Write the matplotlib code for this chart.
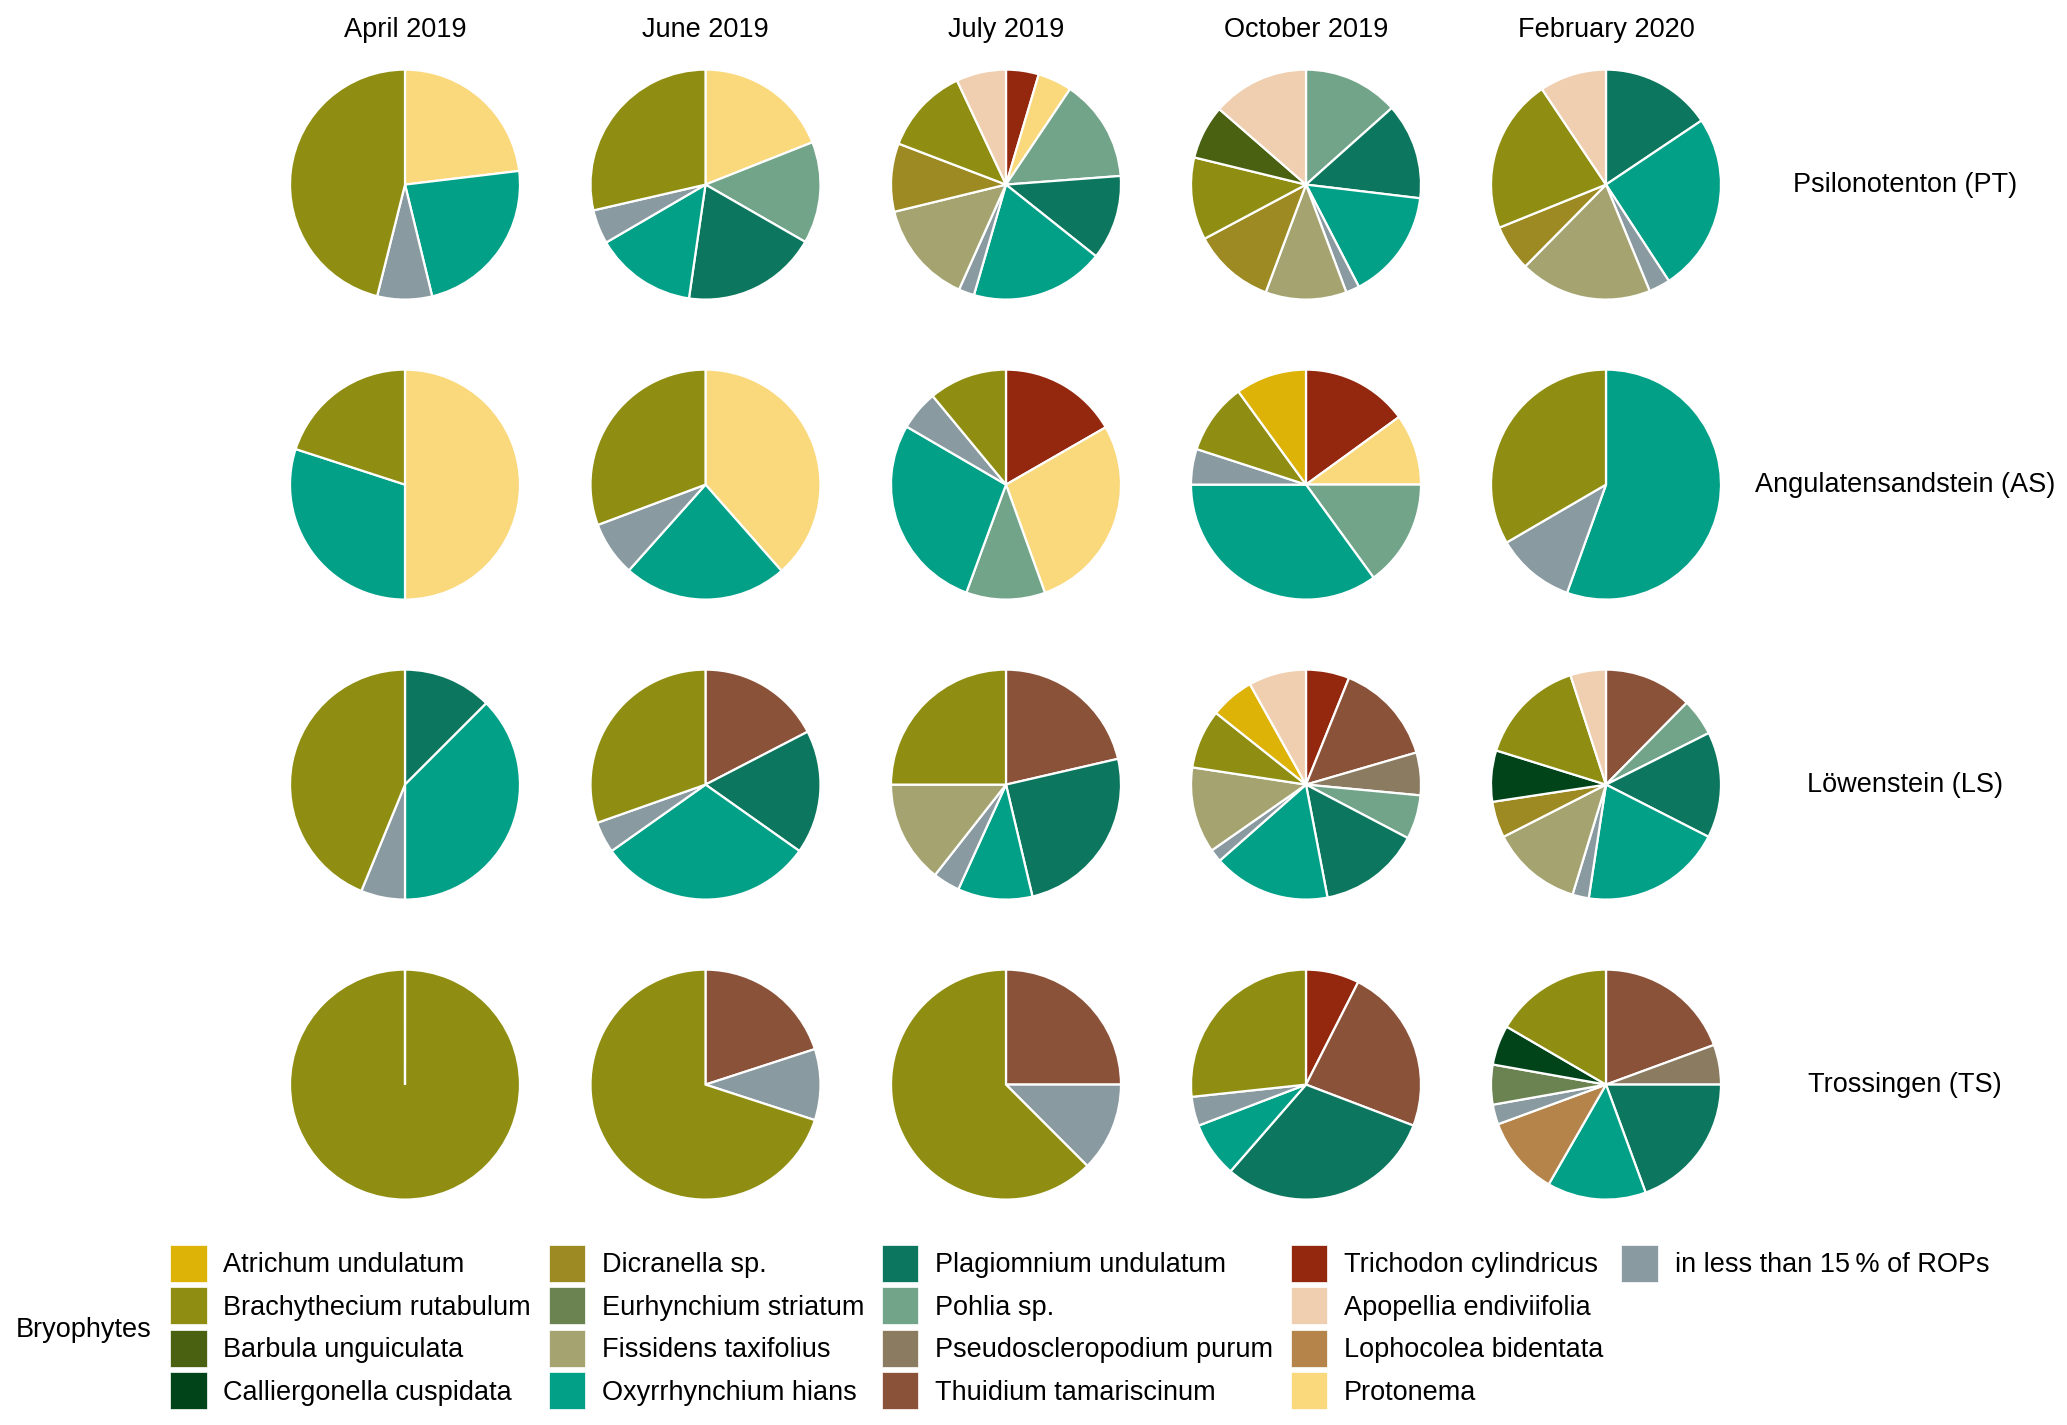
import matplotlib
matplotlib.use("Agg")
from matplotlib import pyplot as plt
from matplotlib.patches import Patch

plt.rcParams["font.family"] = ["Liberation Sans", "DejaVu Sans"]

months = ["April 2019", "June 2019", "July 2019", "October 2019", "February 2020"]
sites = ["Psilonotenton (PT)", "Angulatensandstein (AS)", "Löwenstein (LS)", "Trossingen (TS)"]

species = ["Atrichum undulatum", "Brachythecium rutabulum", "Barbula unguiculata",
           "Calliergonella cuspidata", "Dicranella sp.", "Eurhynchium striatum",
           "Fissidens taxifolius", "Oxyrrhynchium hians", "Plagiomnium undulatum",
           "Pohlia sp.", "Pseudoscleropodium purum", "Thuidium tamariscinum",
           "Trichodon cylindricus", "Apopellia endiviifolia", "Lophocolea bidentata",
           "Protonema", "in less than 15\u2009% of ROPs"]
colors = ["#DDB308", "#8F8E12", "#4A6112", "#014419", "#9D8A22", "#6A8350",
          "#A5A471", "#03A088", "#0C775E", "#72A48A", "#8A7B61", "#8B523A",
          "#93280F", "#EFCFAF", "#B5844B", "#FAD87C", "#8A9AA1"]
LESS = species[-1]

# share of each taxon (%) per sampling date
pt = {
    "April 2019": {"Protonema": 23.1, "Oxyrrhynchium hians": 23.1, LESS: 7.7,
                   "Brachythecium rutabulum": 46.1},
    "June 2019": {"Protonema": 19.0, "Pohlia sp.": 14.3, "Plagiomnium undulatum": 19.0,
                  "Oxyrrhynchium hians": 14.3, LESS: 4.8, "Brachythecium rutabulum": 28.6},
    "July 2019": {"Trichodon cylindricus": 4.6, "Protonema": 4.8, "Pohlia sp.": 14.4,
                  "Plagiomnium undulatum": 11.9, "Oxyrrhynchium hians": 18.8, LESS: 2.2,
                  "Fissidens taxifolius": 14.5, "Dicranella sp.": 9.6,
                  "Brachythecium rutabulum": 12.2, "Apopellia endiviifolia": 7.0},
    "October 2019": {"Pohlia sp.": 13.4, "Plagiomnium undulatum": 13.5,
                     "Oxyrrhynchium hians": 15.5, LESS: 1.9, "Fissidens taxifolius": 11.4,
                     "Dicranella sp.": 11.5, "Brachythecium rutabulum": 11.6,
                     "Barbula unguiculata": 7.6, "Apopellia endiviifolia": 13.6},
    "February 2020": {"Plagiomnium undulatum": 15.6, "Oxyrrhynchium hians": 25.2, LESS: 3.0,
                      "Fissidens taxifolius": 18.6, "Dicranella sp.": 6.5,
                      "Brachythecium rutabulum": 21.7, "Apopellia endiviifolia": 9.4},
}
as_ = {
    "April 2019": {"Protonema": 50.0, "Oxyrrhynchium hians": 30.0,
                   "Brachythecium rutabulum": 20.0},
    "June 2019": {"Protonema": 38.5, "Oxyrrhynchium hians": 23.1, LESS: 7.7,
                  "Brachythecium rutabulum": 30.7},
    "July 2019": {"Trichodon cylindricus": 16.7, "Protonema": 27.8, "Pohlia sp.": 11.1,
                  "Oxyrrhynchium hians": 27.8, LESS: 5.6, "Brachythecium rutabulum": 11.0},
    "October 2019": {"Trichodon cylindricus": 15.0, "Protonema": 10.0, "Pohlia sp.": 15.0,
                     "Oxyrrhynchium hians": 35.0, LESS: 5.0,
                     "Brachythecium rutabulum": 10.0, "Atrichum undulatum": 10.0},
    "February 2020": {"Oxyrrhynchium hians": 55.5, LESS: 11.1,
                      "Brachythecium rutabulum": 33.4},
}
ls = {
    "April 2019": {"Plagiomnium undulatum": 12.5, "Oxyrrhynchium hians": 37.5, LESS: 6.2,
                   "Brachythecium rutabulum": 43.8},
    "June 2019": {"Thuidium tamariscinum": 17.4, "Plagiomnium undulatum": 17.4,
                  "Oxyrrhynchium hians": 30.4, LESS: 4.4, "Brachythecium rutabulum": 30.4},
    "July 2019": {"Thuidium tamariscinum": 21.4, "Plagiomnium undulatum": 24.9,
                  "Oxyrrhynchium hians": 10.5, LESS: 3.8, "Fissidens taxifolius": 14.4,
                  "Brachythecium rutabulum": 25.0},
    "October 2019": {"Trichodon cylindricus": 6.1, "Thuidium tamariscinum": 14.4,
                     "Pseudoscleropodium purum": 6.0, "Pohlia sp.": 6.2,
                     "Plagiomnium undulatum": 14.3, "Oxyrrhynchium hians": 16.5, LESS: 1.8,
                     "Fissidens taxifolius": 12.1, "Brachythecium rutabulum": 8.3,
                     "Atrichum undulatum": 6.2, "Apopellia endiviifolia": 8.1},
    "February 2020": {"Thuidium tamariscinum": 12.4, "Pohlia sp.": 5.2,
                      "Plagiomnium undulatum": 14.9, "Oxyrrhynchium hians": 19.9, LESS: 2.3,
                      "Fissidens taxifolius": 12.8, "Dicranella sp.": 5.1,
                      "Calliergonella cuspidata": 7.2, "Brachythecium rutabulum": 15.2,
                      "Apopellia endiviifolia": 5.0},
}
ts = {
    "April 2019": {"Brachythecium rutabulum": 100.0},
    "June 2019": {"Thuidium tamariscinum": 20.0, LESS: 10.0, "Brachythecium rutabulum": 70.0},
    "July 2019": {"Thuidium tamariscinum": 25.0, LESS: 12.5, "Brachythecium rutabulum": 62.5},
    "October 2019": {"Trichodon cylindricus": 7.5, "Thuidium tamariscinum": 23.3,
                     "Plagiomnium undulatum": 30.6, "Oxyrrhynchium hians": 7.8, LESS: 4.1,
                     "Brachythecium rutabulum": 26.7},
    "February 2020": {"Thuidium tamariscinum": 19.4, "Pseudoscleropodium purum": 5.6,
                      "Plagiomnium undulatum": 19.4, "Oxyrrhynchium hians": 13.9,
                      "Lophocolea bidentata": 11.1, LESS: 2.8, "Eurhynchium striatum": 5.6,
                      "Calliergonella cuspidata": 5.6, "Brachythecium rutabulum": 16.6},
}
site_data = [pt, as_, ls, ts]

color_of = dict(zip(species, colors))

W, H = 2067, 1425
fig = plt.figure(figsize=(W / 100, H / 100), dpi=100)

col_x = [405, 705.5, 1006, 1306, 1606]
row_y = [184.6, 484.6, 784.6, 1084.6]
r = 115
fs = 19.5

for i, (site, data) in enumerate(zip(sites, site_data)):
    cy = row_y[i]
    for j, month in enumerate(months):
        cx = col_x[j]
        ax = fig.add_axes([(cx - 1.25 * r) / W, 1 - (cy + 1.25 * r) / H,
                           2.5 * r / W, 2.5 * r / H])
        # clockwise from 12 o'clock, reverse alphabetical like ggplot's stacking
        names = sorted(data[month], key=str.lower, reverse=True)
        vals = [data[month][n] for n in names]
        wedges, _ = ax.pie(vals, colors=[color_of[n] for n in names],
                           startangle=90, counterclock=False,
                           wedgeprops=dict(edgecolor="white", linewidth=1.6))
        for w in wedges:
            if w.theta2 - w.theta1 >= 359.99:
                w.set_theta2(w.theta2 - 0.01)
        if i == 0:
            fig.text(cx / W, 1 - 30 / H, month, ha="center", va="center", fontsize=fs)
    fig.text(1905 / W, 1 - cy / H, site, ha="center", va="center", fontsize=fs)

handles = [Patch(facecolor=c, edgecolor="white", linewidth=0.5) for c in colors]
labels = list(species)
# pad the last column so that legend fills 4 rows per column
for _ in range(3):
    handles.append(Patch(facecolor="none", edgecolor="none"))
    labels.append("")

fig.legend(handles, labels, ncol=5, loc="upper left",
           bbox_to_anchor=(170 / W, 1 - 1245 / H), frameon=False,
           borderpad=0, borderaxespad=0, handlelength=1.35, handleheight=1.725,
           handletextpad=0.62, columnspacing=0.65, labelspacing=0.2, fontsize=fs)
fig.text(16 / W, 1 - 1330 / H, "Bryophytes", ha="left", va="center", fontsize=fs)

fig.savefig("out.png", dpi=100)
